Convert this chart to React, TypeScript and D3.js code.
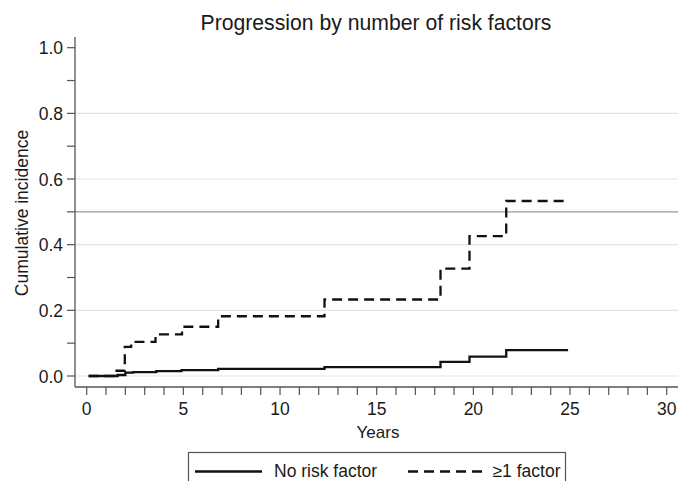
import React from 'react'
import * as d3 from 'd3'

// Step points [years, cumulative incidence]
const NO_RISK: [number, number][] = [
  [0.1, 0], [1.6, 0.003], [2.0, 0.010], [2.4, 0.012], [3.6, 0.015], [4.9, 0.018],
  [6.8, 0.022], [12.3, 0.027], [18.3, 0.043], [19.8, 0.059], [21.7, 0.079], [24.9, 0.079],
]
const ONE_PLUS: [number, number][] = [
  [0.1, 0], [1.45, 0.016], [1.97, 0.089], [2.3, 0.104], [3.56, 0.127], [4.93, 0.15],
  [6.8, 0.182], [12.3, 0.233], [18.3, 0.327], [19.8, 0.426], [21.7, 0.533], [24.9, 0.533],
]
const X_MAJOR = [0, 5, 10, 15, 20, 25, 30]
const X_MINOR = d3.range(0, 31, 1)
const Y_MAJOR = [0, 0.2, 0.4, 0.6, 0.8, 1.0]
const Y_MINOR = d3.range(0, 1.01, 0.1)
const GRID = [0, 0.2, 0.4, 0.6, 0.8]
const REF_LINE = 0.5
const TITLE = 'Progression by number of risk factors'
const LEGEND = ['No risk factor', '≥1 factor']

const W = 678
const H = 481
const FONT = 'Arial, "Liberation Sans", sans-serif'
const AXIS = '#555'
const TXT = '#1a1a1a'

export default function App() {
  const x = d3.scaleLinear().domain([0, 30]).range([86.7, 666.7])
  const y = d3.scaleLinear().domain([0, 1]).range([376, 47.7])
  const axisX = 75
  const axisY = 387

  const line = d3.line<[number, number]>()
    .x(d => x(d[0]))
    .y(d => y(d[1]))
    .curve(d3.curveStepAfter)

  return (
    <div style={{ position: 'absolute', left: 0, top: 0 }}>
      <svg width={W} height={H} style={{ display: 'block', background: '#fff' }} fontFamily={FONT}>
        <text x={376} y={30} textAnchor="middle" fontSize={21.2} fill={TXT}>{TITLE}</text>

        {/* grid */}
        {GRID.map(v => (
          <line key={'g' + v} x1={axisX} x2={W} y1={y(v)} y2={y(v)} stroke="#e3e3e3" strokeWidth={1.2} />
        ))}
        <line x1={axisX} x2={W} y1={y(REF_LINE)} y2={y(REF_LINE)} stroke="#9a9a9a" strokeWidth={1.2} />

        {/* y axis */}
        <line x1={axisX} x2={axisX} y1={37} y2={axisY} stroke={AXIS} strokeWidth={1.3} />
        {Y_MINOR.map(v => (
          <line key={'ym' + v} x1={axisX - 8} x2={axisX} y1={y(v)} y2={y(v)} stroke={AXIS} strokeWidth={1.2} />
        ))}
        {Y_MAJOR.map(v => (
          <text key={'yl' + v} x={63} y={y(v) + 6.5} textAnchor="end" fontSize={17.5} fill={TXT}>{v.toFixed(1)}</text>
        ))}
        <text transform={`translate(28,${213}) rotate(-90)`} textAnchor="middle" fontSize={17.5} fill={TXT}>
          Cumulative incidence
        </text>

        {/* x axis */}
        <line x1={axisX} x2={W} y1={axisY} y2={axisY} stroke={AXIS} strokeWidth={1.3} />
        {X_MINOR.map(v => (
          <line key={'xm' + v} x1={x(v)} x2={x(v)} y1={axisY} y2={axisY + 8} stroke={AXIS} strokeWidth={1.2} />
        ))}
        {X_MAJOR.map(v => (
          <text key={'xl' + v} x={x(v)} y={415} textAnchor="middle" fontSize={17.5} fill={TXT}>{v}</text>
        ))}
        <text x={378} y={438} textAnchor="middle" fontSize={17} fill={TXT}>Years</text>

        {/* series */}
        <path d={line(NO_RISK) ?? ''} fill="none" stroke="#111" strokeWidth={2.3} />
        <path d={line(ONE_PLUS) ?? ''} fill="none" stroke="#111" strokeWidth={2.3} strokeDasharray="10,6" />

        {/* legend */}
        <rect x={188.5} y={452.5} width={377} height={40} fill="#fff" stroke="#555" strokeWidth={1.2} />
        <line x1={195} x2={262} y1={471.5} y2={471.5} stroke="#111" strokeWidth={2.3} />
        <text x={274} y={477} fontSize={17.5} fill={TXT}>{LEGEND[0]}</text>
        <line x1={408} x2={486} y1={471.5} y2={471.5} stroke="#111" strokeWidth={2.3} strokeDasharray="10,6" />
        <text x={492.5} y={477} fontSize={17.5} fill={TXT}>{LEGEND[1]}</text>
      </svg>
    </div>
  )
}
